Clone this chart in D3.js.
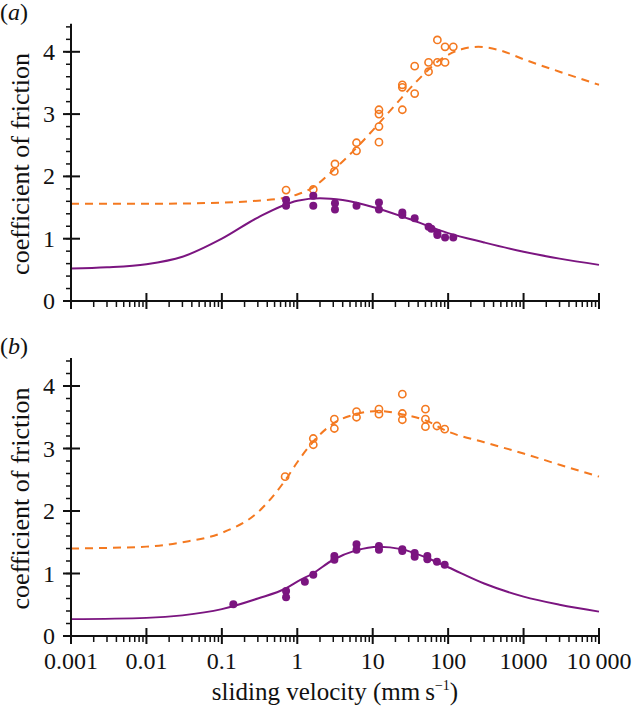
<!DOCTYPE html>
<html>
<head>
<meta charset="utf-8">
<script src="https://cdn.jsdelivr.net/npm/d3@7"></script>
</head>
<body style="margin:0">
<div id="chart"></div>
<script>
// ---- data ----
var xTickValues = [0.001, 0.01, 0.1, 1, 10, 100, 1000, 10000];
var xTickLabels = ['0.001', '0.01', '0.1', '1', '10', '100', '1000', '10\u2009000'];
var yTickValues = [0, 1, 2, 3, 4];

// panel (a): fitted curves
var curveAx = [0.001, 0.003, 0.01, 0.03, 0.1, 0.3, 1, 2, 4, 10, 30, 100, 300, 1000, 3000, 10000];
var curveAPurple = [0.52, 0.54, 0.59, 0.71, 1.0, 1.34, 1.61, 1.65, 1.62, 1.51, 1.32, 1.09, 0.94, 0.79, 0.68, 0.58];
var curveAOrangeX = [0.001, 0.01, 0.1, 0.3, 0.7, 1, 1.6, 3, 6, 10, 20, 40, 80, 150, 250, 500, 1000, 3000, 10000];
var curveAOrange = [1.56, 1.56, 1.58, 1.61, 1.66, 1.71, 1.82, 2.1, 2.45, 2.74, 3.15, 3.55, 3.88, 4.04, 4.08, 4.02, 3.88, 3.68, 3.47];

// panel (a): measurements
var ptsAOrangeX = [0.71, 1.63, 3.16, 3.1, 6.1, 6.1, 12.1, 12.1, 12.1, 12.1, 24.7, 24.7, 24.7, 36, 36, 55, 55, 72, 72, 91, 91, 117];
var ptsAOrange = [1.78, 1.79, 2.2, 2.08, 2.54, 2.41, 3.07, 3.0, 2.8, 2.55, 3.47, 3.43, 3.07, 3.33, 3.77, 3.68, 3.83, 3.83, 4.19, 3.83, 4.08, 4.08];
var ptsAPurpleX = [0.71, 0.71, 1.63, 1.63, 3.16, 3.16, 6.1, 12.1, 12.1, 24.7, 24.7, 36, 55, 60, 72, 72, 91, 117];
var ptsAPurple = [1.62, 1.53, 1.69, 1.53, 1.57, 1.47, 1.53, 1.58, 1.47, 1.42, 1.38, 1.33, 1.19, 1.16, 1.09, 1.06, 1.02, 1.02];

// panel (b): fitted curves
var curveBx = [0.001, 0.01, 0.03, 0.1, 0.3, 0.7, 1, 1.6, 3, 6, 12, 24, 50, 100, 300, 1000, 3000, 10000];
var curveBPurple = [0.27, 0.29, 0.33, 0.43, 0.6, 0.76, 0.87, 1.0, 1.22, 1.37, 1.43, 1.39, 1.26, 1.1, 0.84, 0.63, 0.5, 0.39];
var curveBOrange = [1.40, 1.43, 1.50, 1.65, 1.98, 2.5, 2.78, 3.1, 3.4, 3.55, 3.6, 3.55, 3.45, 3.27, 3.1, 2.92, 2.74, 2.55];

// panel (b): measurements
var ptsBOrangeX = [0.69, 1.63, 1.63, 3.1, 3.1, 6.1, 6.1, 12.1, 12.1, 24.7, 24.7, 24.7, 50, 50, 50, 71, 90];
var ptsBOrange = [2.55, 3.16, 3.06, 3.47, 3.32, 3.59, 3.5, 3.63, 3.55, 3.87, 3.56, 3.46, 3.63, 3.47, 3.35, 3.36, 3.31];
var ptsBPurpleX = [0.142, 0.71, 0.71, 1.26, 1.63, 3.1, 3.1, 6.1, 6.1, 12.1, 12.1, 24.7, 24.7, 36, 36, 53, 53, 71, 90];
var ptsBPurple = [0.51, 0.72, 0.62, 0.87, 0.98, 1.28, 1.22, 1.47, 1.38, 1.44, 1.38, 1.39, 1.36, 1.33, 1.27, 1.28, 1.23, 1.19, 1.14];

var ORANGE = '#f47920';
var PURPLE = '#7b1580';
var INK = '#111';
var FONT = 'Liberation Serif';

var width = 632, height = 708;
var svg = d3.select('#chart').append('svg')
            .attr('width', width)
            .attr('height', height);

var x = d3.scaleLog().domain([0.001, 10000]).range([71, 599]);

function zip(xs, ys) {
  return xs.map(function(v, i) { return [v, ys[i]]; });
}

// all text goes through here so the serif face is set on each element
function addText(parent, size) {
  return parent.append('text')
               .attr('font-family', FONT)
               .attr('font-size', size)
               .attr('fill', INK);
}

// draw one panel; y0 is the pixel of value 0, ppu pixels per unit
function drawPanel(opts) {
  var y = d3.scaleLinear().domain([0, 4.45]).range([opts.y0, opts.y0 - 4.45 * opts.ppu]);
  var g = svg.append('g').classed('panel', true);

  // panel letter
  var lab = addText(g, 24)
             .attr('x', 0)
             .attr('y', opts.y0 - 4.45 * opts.ppu - 4);
  lab.append('tspan').text('(');
  lab.append('tspan').attr('font-style', 'italic').text(opts.letter);
  lab.append('tspan').text(')');

  // y label
  addText(g, 26)
   .attr('transform', 'translate(29,' + y(2.2) + ') rotate(-90)')
   .attr('text-anchor', 'middle')
   .text('coefficient of friction');

  // lines
  var line = d3.line()
               .x(function(d) { return x(d[0]); })
               .y(function(d) { return y(d[1]); })
               .curve(d3.curveMonotoneX);

  g.append('path')
   .attr('d', line(zip(opts.orangeCurveX, opts.orangeCurve)))
   .attr('fill', 'none')
   .attr('stroke', ORANGE)
   .attr('stroke-width', 2)
   .attr('stroke-dasharray', '8,6');

  g.append('path')
   .attr('d', line(zip(opts.purpleCurveX, opts.purpleCurve)))
   .attr('fill', 'none')
   .attr('stroke', PURPLE)
   .attr('stroke-width', 2);

  g.selectAll('circle.open')
   .data(zip(opts.orangePtsX, opts.orangePts))
   .enter().append('circle')
   .classed('open', true)
   .attr('cx', function(d) { return x(d[0]); })
   .attr('cy', function(d) { return y(d[1]); })
   .attr('r', 3.6)
   .attr('fill', 'none')
   .attr('stroke', ORANGE)
   .attr('stroke-width', 1.6);

  g.selectAll('circle.filled')
   .data(zip(opts.purplePtsX, opts.purplePts))
   .enter().append('circle')
   .classed('filled', true)
   .attr('cx', function(d) { return x(d[0]); })
   .attr('cy', function(d) { return y(d[1]); })
   .attr('r', 4)
   .attr('fill', PURPLE);

  // x axis
  var minors = [];
  for (var e = -3; e < 4; e++) {
    for (var m = 2; m <= 9; m++) minors.push(m * Math.pow(10, e));
  }
  var xAxis = g.append('g').attr('transform', 'translate(0,' + opts.y0 + ')');
  xAxis.append('line')
       .attr('x1', x.range()[0]).attr('x2', x.range()[1])
       .attr('stroke', INK).attr('stroke-width', 2);
  xAxis.selectAll('line.minor').data(minors).enter().append('line')
       .attr('x1', x).attr('x2', x)
       .attr('y1', 0).attr('y2', 6)
       .attr('stroke', INK).attr('stroke-width', 1.5);
  xAxis.selectAll('line.major').data(xTickValues).enter().append('line')
       .attr('x1', x).attr('x2', x)
       .attr('y1', -8).attr('y2', 8)
       .attr('stroke', INK).attr('stroke-width', 2);
  if (opts.showXLabels) {
    xTickValues.forEach(function(v, i) {
      addText(xAxis, 24)
        .attr('x', x(v))
        .attr('y', 33)
        .attr('text-anchor', 'middle')
        .text(xTickLabels[i]);
    });
  }

  // y axis
  var yMinors = d3.range(0, 4.41, 0.2);
  var yAxis = g.append('g').attr('transform', 'translate(' + x.range()[0] + ',0)');
  yAxis.append('line')
       .attr('y1', y(0)).attr('y2', y(4.45))
       .attr('stroke', INK).attr('stroke-width', 2);
  yAxis.selectAll('line.minor').data(yMinors).enter().append('line')
       .attr('x1', -5).attr('x2', 0)
       .attr('y1', y).attr('y2', y)
       .attr('stroke', INK).attr('stroke-width', 1.5);
  yAxis.selectAll('line.major').data(yTickValues).enter().append('line')
       .attr('x1', -8).attr('x2', 9)
       .attr('y1', y).attr('y2', y)
       .attr('stroke', INK).attr('stroke-width', 2);
  yTickValues.forEach(function(v) {
    addText(yAxis, 24)
      .attr('x', -16)
      .attr('y', y(v) + 8)
      .attr('text-anchor', 'end')
      .text(v);
  });
}

drawPanel({
  letter: 'a', y0: 301, ppu: 62.3, showXLabels: false,
  orangeCurveX: curveAOrangeX, orangeCurve: curveAOrange,
  purpleCurveX: curveAx, purpleCurve: curveAPurple,
  orangePtsX: ptsAOrangeX, orangePts: ptsAOrange,
  purplePtsX: ptsAPurpleX, purplePts: ptsAPurple
});

drawPanel({
  letter: 'b', y0: 636, ppu: 62.5, showXLabels: true,
  orangeCurveX: curveBx, orangeCurve: curveBOrange,
  purpleCurveX: curveBx, purpleCurve: curveBPurple,
  orangePtsX: ptsBOrangeX, orangePts: ptsBOrange,
  purplePtsX: ptsBPurpleX, purplePts: ptsBPurple
});

// x axis title
var xt = addText(svg, 25)
            .attr('x', 335)
            .attr('y', 700)
            .attr('text-anchor', 'middle');
xt.append('tspan').text('sliding velocity (mm\u2009s');
xt.append('tspan').attr('font-size', 14).attr('dy', -10).text('\u22121');
xt.append('tspan').attr('dy', 10).text(')');
</script>
</body>
</html>
